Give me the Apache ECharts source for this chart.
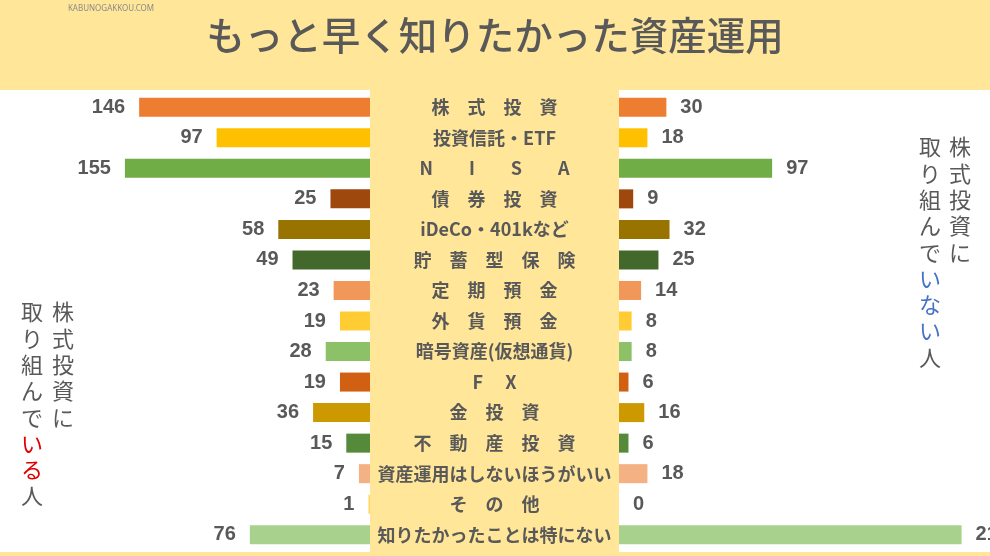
<!DOCTYPE html>
<html>
<head>
<meta charset="utf-8">
<script src="https://cdn.jsdelivr.net/npm/echarts@6/dist/echarts.min.js"></script>
<style>
  html, body { margin: 0; padding: 0; background: #fff; }
  #chart { width: 990px; height: 556px; }
</style>
</head>
<body>
<div id="chart"></div>
<script>
// 項目（中央のラベル）
const categories = [
  '株　式　投　資', '投資信託・ETF', 'N　　I　　S　　A', '債　券　投　資',
  'iDeCo・401kなど', '貯　蓄　型　保　険', '定　期　預　金', '外　貨　預　金',
  '暗号資産(仮想通貨)', 'F　 X', '金　投　資', '不　動　産　投　資',
  '資産運用はしないほうがいい', 'そ　の　他', '知りたかったことは特にない'
]
// 株式投資に取り組んでいる人
const investing = [146, 97, 155, 25, 58, 49, 23, 19, 28, 19, 36, 15, 7, 1, 76]
// 株式投資に取り組んでいない人
const notInvesting = [30, 18, 97, 9, 32, 25, 14, 8, 8, 6, 16, 6, 18, 0, 217]

const colors = [
  '#ED7D31', '#FFC000', '#70AD47', '#9E480E', '#997300', '#43682B', '#F1975A', '#FFCD33',
  '#8CC168', '#D26012', '#CC9A00', '#548A3A', '#F4B183', '#FFD966', '#A9D18E'
]

const TEXT = '#595959'
const YELLOW = '#FFE699'

const chart = echarts.init(document.getElementById('chart'))

// 縦書きテキストを1文字ずつ並べる
function vertical(parts, x, y0, step) {
  const items = []
  let i = 0
  parts.forEach(([str, color]) => {
    for (const ch of str) {
      items.push({
        type: 'text',
        x: x,
        y: y0 + i * step,
        z: 50,
        style: {
          text: ch,
          fill: color,
          font: '22px "Noto Sans CJK JP"',
          align: 'center',
          verticalAlign: 'middle'
        }
      })
      i++
    }
  })
  return items
}

const makeSeries = (data, idx, pos) => ({
  type: 'bar',
  xAxisIndex: idx,
  yAxisIndex: idx,
  barWidth: 19,
  data: data.map((v, i) => ({ value: v, itemStyle: { color: colors[i] } })),
  label: {
    show: true,
    position: pos,
    distance: 14,
    color: TEXT,
    fontSize: 20,
    fontWeight: 'bold',
    fontFamily: 'Liberation Sans'
  },
  animation: false
})

const option = {
  backgroundColor: '#fff',
  title: {
    text: 'もっと早く知りたかった資産運用',
    left: 'center',
    top: 11,
    textStyle: {
      fontSize: 38.5,
      fontWeight: 500,
      color: TEXT,
      fontFamily: 'Noto Sans CJK JP'
    }
  },
  grid: [
    { left: 0, width: 370, top: 92, bottom: 6 },
    { left: 619, width: 371, top: 92, bottom: 6 }
  ],
  xAxis: [
    { gridIndex: 0, type: 'value', inverse: true, min: 0, max: 234, show: false },
    { gridIndex: 1, type: 'value', min: 0, max: 235, show: false }
  ],
  yAxis: [
    {
      gridIndex: 0,
      type: 'category',
      inverse: true,
      position: 'right',
      data: categories,
      axisLine: { show: false },
      axisTick: { show: false },
      axisLabel: {
        interval: 0,
        align: 'center',
        margin: 124.5,
        color: TEXT,
        fontSize: 18,
        fontWeight: 'bold',
        fontFamily: 'Noto Sans CJK JP'
      }
    },
    { gridIndex: 1, type: 'category', inverse: true, data: categories, show: false }
  ],
  graphic: [
    { type: 'rect', z: -10, shape: { x: 0, y: 0, width: 990, height: 90 }, style: { fill: YELLOW } },
    { type: 'rect', z: -10, shape: { x: 370, y: 0, width: 249, height: 556 }, style: { fill: YELLOW } },
    { type: 'rect', z: -10, shape: { x: 0, y: 552, width: 990, height: 4 }, style: { fill: YELLOW } },
    {
      type: 'text', x: 111, y: 9, z: 50,
      style: { text: 'KABUNOGAKKOU.COM', fill: '#8a8a8a', font: '8px "Noto Sans"', align: 'center', verticalAlign: 'middle' }
    },
    ...vertical([['株式投資に', TEXT]], 63, 312, 26.3),
    ...vertical([['取り組んで', TEXT], ['いる', '#E00000'], ['人', TEXT]], 32, 312, 26.3),
    ...vertical([['株式投資に', TEXT]], 960, 147, 26.3),
    ...vertical([['取り組んで', TEXT], ['いない', '#4472C4'], ['人', TEXT]], 930, 147, 26.3)
  ],
  series: [
    makeSeries(investing, 0, 'left'),
    makeSeries(notInvesting, 1, 'right')
  ]
}

chart.setOption(option)
</script>
</body>
</html>
